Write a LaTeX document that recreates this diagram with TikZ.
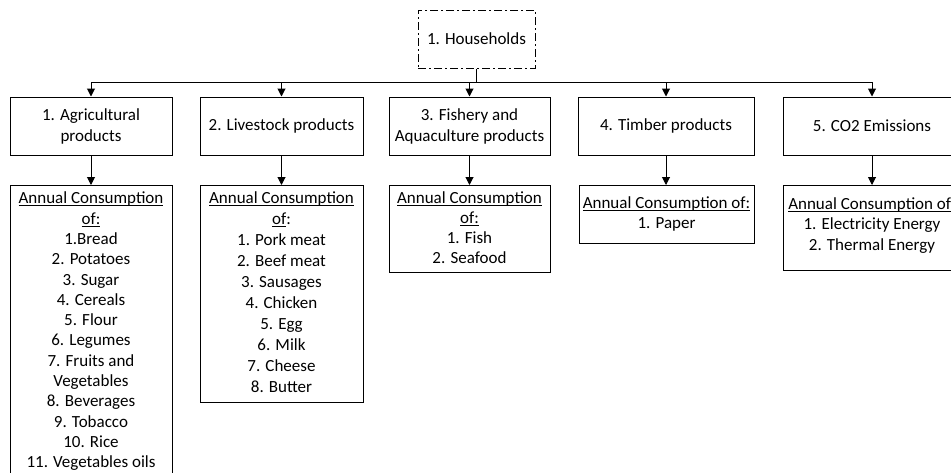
\documentclass[tikz,border=0pt]{standalone}
\usepackage{fontspec}
\setmainfont{Carlito}
\usetikzlibrary{arrows.meta}
\tikzset{
  x=1pt,y=1pt,
  txt/.style={font=\fontsize{17}{21}\selectfont},
  topbox/.style={txt,draw,line width=1pt,align=center,inner sep=0pt,minimum height=58pt},
  consbox/.style={txt,draw,line width=1pt,inner sep=0pt,anchor=north},
  hhbox/.style={txt,draw,line width=1pt,inner sep=0pt,minimum width=117pt,minimum height=58pt,dash pattern=on 8pt off 3pt on 2pt off 3pt},
  link/.style={line width=1pt},
  arr/.style={line width=1pt,-{Triangle[length=8pt,width=8pt]}}
}
\newcommand{\myul}[1]{\leavevmode\setbox0\hbox{#1}\rlap{\rule[-2.4pt]{\wd0}{0.8pt}}\box0}
\newcommand{\cons}[5]{\parbox[c][#2][t]{#1}{\fontsize{17}{#4}\selectfont\centering\vspace*{#3}#5\par}}
\begin{document}
\begin{tikzpicture}
\useasboundingbox (0,0) rectangle (951,-472);
\clip (0,0) rectangle (951,-472);
\node[hhbox] (hh) at (476.5,-39) {1. Households};
\coordinate (bus) at (0,-82);

\node[topbox,minimum width=162pt] (b1) at (91,-126) {1. Agricultural\\products};
\node[topbox,minimum width=163pt] (b2) at (281.5,-126) {2. Livestock products};
\node[topbox,minimum width=161pt] (b3) at (469.5,-126) {3. Fishery and\\Aquaculture products};
\node[topbox,minimum width=176pt] (b4) at (666,-126) {4. Timber products};
\node[topbox,minimum width=178pt] (b5) at (872,-126) {5. CO2 Emissions};

\node[consbox] (c1) at (91,-185) {\cons{162pt}{300pt}{6.5pt}{20.3pt}{\myul{Annual Consumption}\\\myul{of:}\\1.Bread\\2. Potatoes\\3. Sugar\\4. Cereals\\5. Flour\\6. Legumes\\7. Fruits and\\Vegetables\\8. Beverages\\9. Tobacco\\10. Rice\\11. Vegetables oils}};
\node[consbox] (c2) at (281.5,-185) {\cons{163pt}{217pt}{6.5pt}{21pt}{\myul{Annual Consumption}\\\myul{of}:\\1. Pork meat\\2. Beef meat\\3. Sausages\\4. Chicken\\5. Egg\\6. Milk\\7. Cheese\\8. Butter}};
\node[consbox] (c3) at (469.5,-185) {\cons{161pt}{87pt}{6.5pt}{20pt}{\myul{Annual Consumption}\\\myul{of:}\\1. Fish\\2. Seafood}};
\node[consbox] (c4) at (666.5,-185) {\cons{175pt}{58pt}{11.5pt}{20pt}{\myul{Annual Consumption of:}\\1. Paper}};
\node[consbox] (c5) at (872,-185) {\cons{178pt}{85pt}{12pt}{20.5pt}{\myul{Annual Consumption of:}\\1. Electricity Energy\\2. Thermal Energy}};

\draw[link] (hh.south) -- (hh.south |- bus);
\draw[link] (b1.north |- bus) -- (b5.north |- bus);
\foreach \n in {b1,b2,b3,b4,b5}{\draw[arr] (\n.north |- bus) -- (\n.north);}
\draw[arr] (b1) -- (c1);
\draw[arr] (b2) -- (c2);
\draw[arr] (b3) -- (c3);
\draw[arr] (b4.south) -- (b4.south |- c4.north);
\draw[arr] (b5) -- (c5);
\end{tikzpicture}
\end{document}
